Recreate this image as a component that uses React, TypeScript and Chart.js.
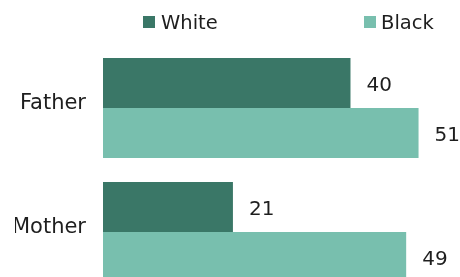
import React, { useEffect, useRef } from "react";
import { Chart, registerables } from "chart.js";

Chart.register(...registerables);

const categories = ["Father", "Mother"];
const seriesNames = ["White", "Black"];
const whiteValues = [40, 21];
const blackValues = [51, 49];
const seriesColors = ["#3a7767", "#78bfae"];
const xMax = 57.7;

const FONT = "'DejaVu Sans', sans-serif";
const TEXT_COLOR = "#1e1e1e";

const valueLabels = {
  id: "valueLabels",
  afterDatasetsDraw(chart: any) {
    const ctx = chart.ctx;
    ctx.save();
    ctx.font = `20px ${FONT}`;
    ctx.fillStyle = TEXT_COLOR;
    ctx.textAlign = "left";
    ctx.textBaseline = "middle";
    chart.data.datasets.forEach((ds: any, i: number) => {
      const meta = chart.getDatasetMeta(i);
      meta.data.forEach((bar: any, j: number) => {
        ctx.fillText(String(ds.data[j]), bar.x + 16, bar.y + 3);
      });
    });
    ctx.restore();
  },
};

export default function App() {
  const ref = useRef<HTMLCanvasElement | null>(null);

  useEffect(() => {
    if (!ref.current) return;
    const chart = new Chart(ref.current, {
      type: "bar",
      data: {
        labels: categories,
        datasets: [
          {
            label: seriesNames[0],
            data: whiteValues,
            backgroundColor: seriesColors[0],
            categoryPercentage: 0.806,
            barPercentage: 1,
          },
          {
            label: seriesNames[1],
            data: blackValues,
            backgroundColor: seriesColors[1],
            categoryPercentage: 0.806,
            barPercentage: 1,
          },
        ],
      },
      options: {
        indexAxis: "y",
        responsive: false,
        animation: false,
        layout: { padding: { left: 15, top: 46, right: 0, bottom: 6 } },
        plugins: {
          legend: { display: false },
          tooltip: { enabled: false },
        },
        scales: {
          x: { display: false, min: 0, max: xMax },
          y: {
            grid: { display: false, drawTicks: false },
            border: { display: false },
            ticks: {
              padding: 17,
              labelOffset: -4,
              color: TEXT_COLOR,
              font: { family: FONT, size: 21 },
            },
            afterFit: (s: any) => {
              s.width = 88;
              s.paddingTop = 0;
              s.paddingBottom = 0;
            },
          },
        },
      },
      plugins: [valueLabels],
    } as any);
    return () => chart.destroy();
  }, []);

  const legendText: React.CSSProperties = {
    position: "absolute",
    top: 11,
    fontFamily: FONT,
    fontSize: 19.5,
    lineHeight: "24px",
    color: TEXT_COLOR,
    whiteSpace: "nowrap",
  };
  const legendBox: React.CSSProperties = {
    position: "absolute",
    top: 16,
    width: 12,
    height: 12,
  };

  return (
    <div
      style={{
        position: "fixed",
        left: 0,
        top: 0,
        width: 460,
        height: 277,
        overflow: "hidden",
        background: "#ffffff",
      }}
    >
      <canvas ref={ref} width={460} height={300} style={{ display: "block" }} />
      <div style={{ ...legendBox, left: 143, background: seriesColors[0] }} />
      <div style={{ ...legendText, left: 161 }}>{seriesNames[0]}</div>
      <div style={{ ...legendBox, left: 364, background: seriesColors[1] }} />
      <div style={{ ...legendText, left: 381 }}>{seriesNames[1]}</div>
    </div>
  );
}
